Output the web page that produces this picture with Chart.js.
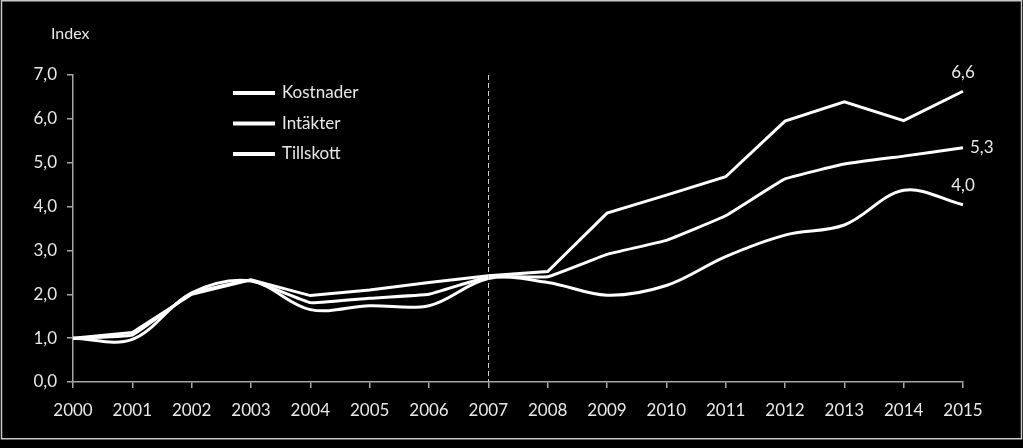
<!DOCTYPE html>
<html>
<head>
<meta charset="utf-8">
<script src="https://cdn.jsdelivr.net/npm/chart.js@4.4.0/dist/chart.umd.min.js"></script>
<style>
  html, body { margin: 0; padding: 0; background: #000; }
  #wrap { width: 1023px; height: 448px; position: relative; }
</style>
</head>
<body>
<div id="wrap"><canvas id="indexChart"></canvas></div>
<script>
// Data
const years = ['2000','2001','2002','2003','2004','2005','2006','2007','2008','2009','2010','2011','2012','2013','2014','2015'];
const kostnader = [1.0, 1.13, 2.0, 2.33, 1.97, 2.1, 2.27, 2.42, 2.52, 3.85, 4.26, 4.68, 5.95, 6.39, 5.96, 6.63];
const intakter  = [1.0, 1.07, 2.02, 2.32, 1.81, 1.91, 2.0, 2.4, 2.4, 2.91, 3.23, 3.79, 4.63, 4.97, 5.15, 5.34];
const tillskott = [1.0, 0.97, 2.03, 2.3, 1.65, 1.74, 1.74, 2.36, 2.27, 1.98, 2.2, 2.86, 3.35, 3.58, 4.37, 4.04];
const yTicks = [0, 1, 2, 3, 4, 5, 6, 7];
const markerYear = '2007';
const seriesNames = ['Kostnader', 'Intäkter', 'Tillskott'];
const axisTitle = 'Index';

(function(){
  const FONT = 'Lato, "Open Sans", sans-serif';
  const TEXT = '#e8e8e8';
  const AXIS = '#a6a6a6';
  const fmt = v => v.toFixed(1).replace('.', ',');

  // background, frame, legend, index label, 2007 marker, end labels
  const decor = {
    id: 'decor',
    beforeDraw(chart){
      const c = chart.ctx;
      c.save();
      c.fillStyle = '#000';
      c.fillRect(0, 0, chart.width, chart.height);
      c.strokeStyle = '#c8c8c8';
      c.lineWidth = 1.5;
      c.strokeRect(1.5, 0.75, chart.width - 3, 438);
      c.restore();
    },
    afterDatasetsDraw(chart){
      const c = chart.ctx;
      const area = chart.chartArea;
      const x = chart.scales.x.getPixelForValue(years.indexOf(markerYear));
      c.save();
      // dashed marker
      c.strokeStyle = '#d0d0d0';
      c.lineWidth = 1;
      c.setLineDash([5, 3]);
      c.beginPath();
      c.moveTo(Math.round(x) + 0.5, area.top);
      c.lineTo(Math.round(x) + 0.5, area.bottom);
      c.stroke();
      c.setLineDash([]);

      // axis title
      c.fillStyle = TEXT;
      c.font = '16px ' + FONT;
      c.textBaseline = 'middle';
      c.textAlign = 'left';
      c.fillText(axisTitle, 51, 34);

      // legend
      c.font = '17px ' + FONT;
      chart.data.datasets.forEach((ds, i) => {
        const y = 93 + i * 30.5;
        c.strokeStyle = ds.borderColor;
        c.lineWidth = 4;
        c.beginPath();
        c.moveTo(233, y);
        c.lineTo(275, y);
        c.stroke();
        c.fillText(ds.label, 282, y);
      });

      // end value labels
      c.font = '17px ' + FONT;
      const place = ['above', 'right', 'above'];
      chart.data.datasets.forEach((ds, i) => {
        const meta = chart.getDatasetMeta(i);
        const pt = meta.data[meta.data.length - 1];
        const txt = fmt(ds.data[ds.data.length - 1]);
        if(place[i] === 'right'){
          c.textAlign = 'left';
          c.fillText(txt, pt.x + 7, pt.y);
        } else {
          c.textAlign = 'center';
          c.fillText(txt, pt.x, pt.y - 19);
        }
      });
      c.restore();
    }
  };

  const line = (label, data, tension) => ({
    label, data,
    borderColor: '#ffffff',
    borderWidth: 3,
    pointRadius: 0,
    tension,
    fill: false
  });

  new Chart(document.getElementById('indexChart'), {
    type: 'line',
    data: {
      labels: years,
      datasets: [
        line(seriesNames[0], kostnader, 0),
        line(seriesNames[1], intakter, 0.08),
        line(seriesNames[2], tillskott, 0.35)
      ]
    },
    options: {
      responsive: true,
      maintainAspectRatio: false,
      animation: false,
      layout: { padding: { top: 75, right: 60, left: 0, bottom: 0 } },
      plugins: { legend: { display: false }, tooltip: { enabled: false } },
      scales: {
        x: {
          offset: false,
          grid: { drawOnChartArea: false, drawTicks: true, tickLength: 6, color: AXIS, lineWidth: 1.5 },
          border: { color: AXIS, width: 1.5 },
          ticks: { color: TEXT, font: { family: FONT, size: 17 }, padding: 12, maxRotation: 0, autoSkip: false },
          afterFit(s){ s.height = 66; }
        },
        y: {
          min: yTicks[0],
          max: yTicks[yTicks.length - 1],
          afterBuildTicks(s){ s.ticks = yTicks.map(v => ({ value: v })); },
          grid: { drawOnChartArea: false, drawTicks: true, tickLength: 6, color: AXIS, lineWidth: 1.5 },
          border: { color: AXIS, width: 1.5 },
          ticks: { color: TEXT, font: { family: FONT, size: 17 }, padding: 10, callback: v => fmt(v) },
          afterFit(s){ s.width = 73; }
        }
      }
    },
    plugins: [decor]
  });
})();
</script>
</body>
</html>
